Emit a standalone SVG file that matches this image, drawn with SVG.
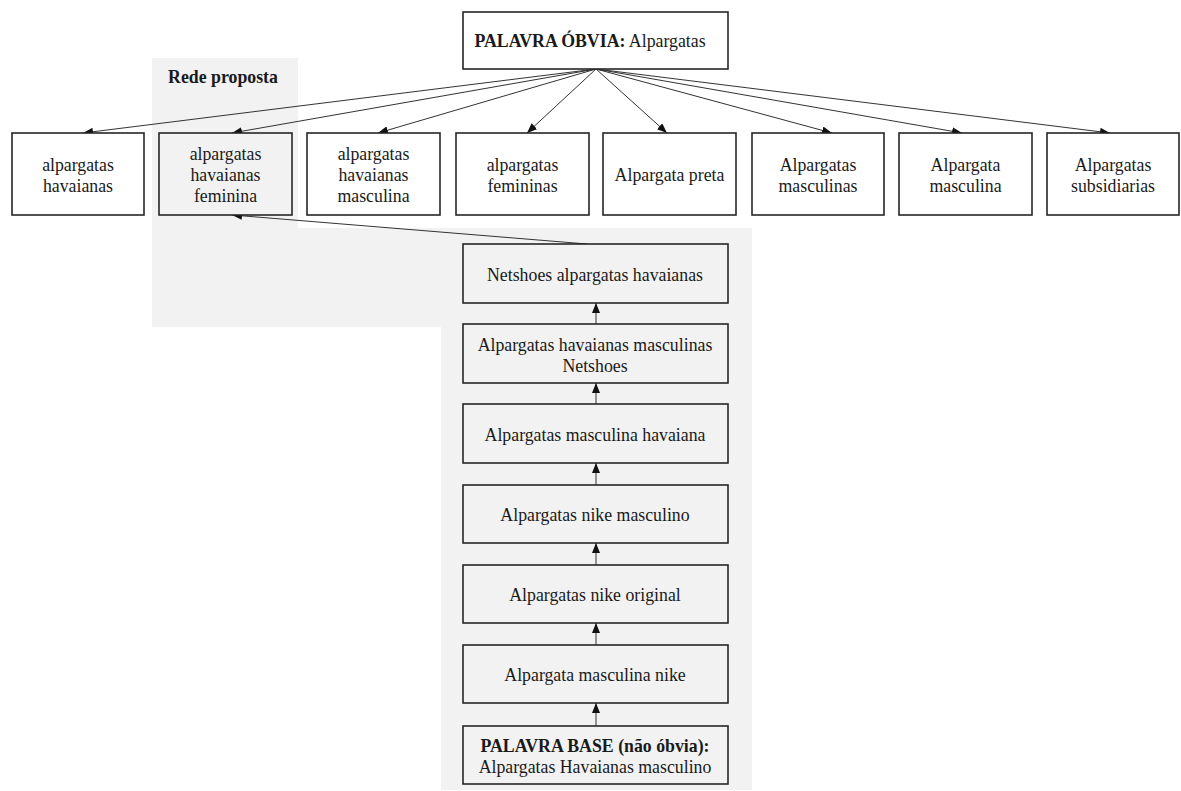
<svg xmlns="http://www.w3.org/2000/svg" width="1181" height="791" viewBox="0 0 1181 791">
<style>
text{font-family:"Liberation Serif","Times New Roman",serif;font-size:17.8px;fill:#1a1a1a;text-anchor:middle}
.b{font-weight:bold}
.box{stroke:#262626;stroke-width:1.6;fill:#ffffff}
.g{fill:#f2f2f2}
.c line{stroke:#333;stroke-width:1;marker-end:url(#ah)}
</style>
<defs>
<marker id="ah" markerUnits="userSpaceOnUse" markerWidth="10" markerHeight="8" refX="10" refY="4" orient="auto">
<path d="M0,0 L10,4 L0,8 z" fill="#111"/>
</marker>
</defs>
<rect width="1181" height="791" fill="#ffffff"/>
<g id="rede-proposta">
<polygon points="152,58 298,58 298,228 752,228 752,790 441,790 441,327 152,327" fill="#f2f2f2"/>
<text class="b" x="223" y="83">Rede proposta</text>
</g>
<g class="c" id="connectors">
<line x1="596" y1="69" x2="83" y2="133"/>
<line x1="596" y1="69" x2="232" y2="133"/>
<line x1="596" y1="69" x2="378" y2="133"/>
<line x1="596" y1="69" x2="527" y2="133"/>
<line x1="596" y1="69" x2="667" y2="133"/>
<line x1="596" y1="69" x2="832" y2="133"/>
<line x1="596" y1="69" x2="962" y2="133"/>
<line x1="596" y1="69" x2="1110" y2="133"/>
<line x1="587" y1="244" x2="232" y2="215"/>
<line x1="596" y1="324" x2="596" y2="303"/>
<line x1="596" y1="404" x2="596" y2="383"/>
<line x1="596" y1="485" x2="596" y2="463"/>
<line x1="596" y1="565" x2="596" y2="543"/>
<line x1="596" y1="645" x2="596" y2="623"/>
<line x1="596" y1="726" x2="596" y2="703"/>
</g>
<g id="palavra-obvia">
<rect class="box" x="463" y="12" width="265" height="57"/>
<text x="590" y="47"><tspan class="b">PALAVRA ÓBVIA:</tspan> Alpargatas</text>
</g>
<g id="n1"><rect class="box" x="12" y="133" width="132" height="82"/>
<text x="78" y="170.5">alpargatas</text><text x="78" y="191.5">havaianas</text></g>
<g id="n2"><rect class="box g" x="159" y="133" width="133" height="82"/>
<text x="225.5" y="160">alpargatas</text><text x="225.5" y="181">havaianas</text><text x="225.5" y="202">feminina</text></g>
<g id="n3"><rect class="box" x="307" y="133" width="133" height="82"/>
<text x="373.5" y="160">alpargatas</text><text x="373.5" y="181">havaianas</text><text x="373.5" y="202">masculina</text></g>
<g id="n4"><rect class="box" x="456" y="133" width="133" height="82"/>
<text x="522.5" y="170.5">alpargatas</text><text x="522.5" y="191.5">femininas</text></g>
<g id="n5"><rect class="box" x="603" y="133" width="133" height="82"/>
<text x="669.5" y="181">Alpargata preta</text></g>
<g id="n6"><rect class="box" x="752" y="133" width="132" height="82"/>
<text x="818" y="170.5">Alpargatas</text><text x="818" y="191.5">masculinas</text></g>
<g id="n7"><rect class="box" x="899" y="133" width="133" height="82"/>
<text x="965.5" y="170.5">Alpargata</text><text x="965.5" y="191.5">masculina</text></g>
<g id="n8"><rect class="box" x="1047" y="133" width="132" height="82"/>
<text x="1113" y="170.5">Alpargatas</text><text x="1113" y="191.5">subsidiarias</text></g>
<g id="c1"><rect class="box g" x="463" y="244" width="265" height="59"/>
<text x="595" y="281">Netshoes alpargatas havaianas</text></g>
<g id="c2"><rect class="box g" x="463" y="324" width="265" height="59"/>
<text x="595" y="351">Alpargatas havaianas masculinas</text><text x="595" y="372">Netshoes</text></g>
<g id="c3"><rect class="box g" x="463" y="404" width="265" height="59"/>
<text x="595" y="441">Alpargatas masculina havaiana</text></g>
<g id="c4"><rect class="box g" x="463" y="485" width="265" height="58"/>
<text x="595" y="521">Alpargatas nike masculino</text></g>
<g id="c5"><rect class="box g" x="463" y="565" width="265" height="58"/>
<text x="595" y="601">Alpargatas nike original</text></g>
<g id="c6"><rect class="box g" x="463" y="645" width="265" height="58"/>
<text x="595" y="681">Alpargata masculina nike</text></g>
<g id="c7"><rect class="box g" x="463" y="726" width="265" height="58"/>
<text class="b" x="595" y="752">PALAVRA BASE (não óbvia):</text><text x="595" y="773">Alpargatas Havaianas masculino</text></g>
</svg>
